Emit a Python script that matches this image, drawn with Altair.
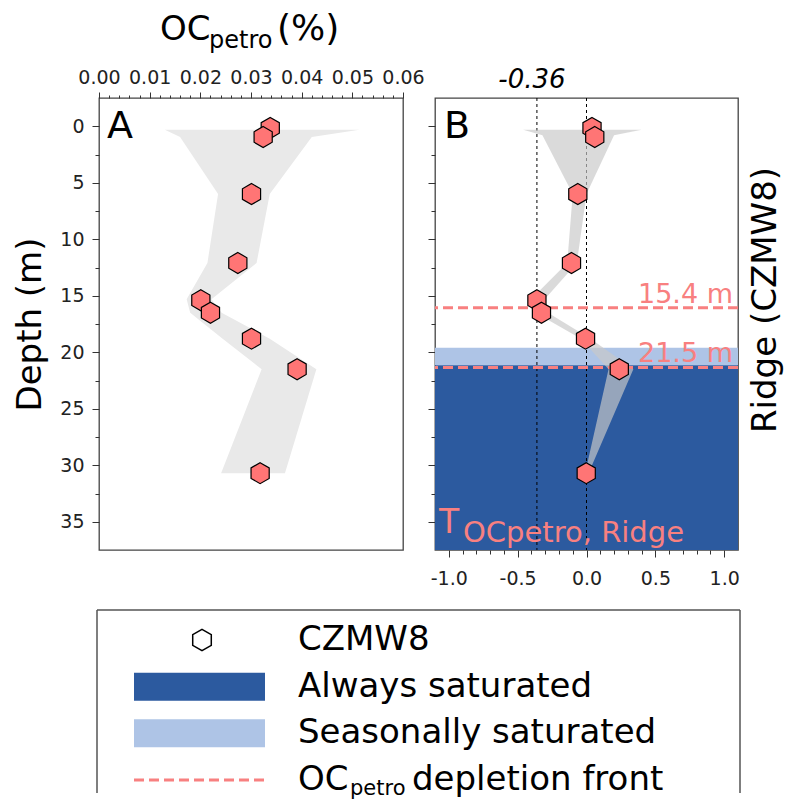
import altair as alt
import pandas as pd

# ---------------- data ----------------
depth = [0.15, 0.95, 6.0, 12.1, 15.4, 16.5, 18.8, 21.5, 30.7]
oc_petro = [0.0338, 0.0324, 0.0301, 0.0274, 0.0201, 0.0220, 0.0301, 0.0391, 0.0318]
tau_ridge = [0.04, 0.06, -0.063, -0.109, -0.36, -0.327, -0.007, 0.238, -0.002]

band_depth_a = [0.3, 0.95, 6.0, 12.1, 15.3, 16.5, 18.8, 21.5, 30.7]
band_lo_a = [0.0130, 0.0160, 0.0235, 0.0214, 0.0173, 0.0180, 0.0244, 0.0321, 0.0241]
band_hi_a = [0.0514, 0.0420, 0.0337, 0.0311, 0.0222, 0.0242, 0.0337, 0.0429, 0.0367]

band_depth_b = [0.3, 0.8, 6.0, 12.1, 15.4, 16.5, 18.8, 21.5, 30.7]
band_lo_b = [-0.46, -0.32, -0.10, -0.14, -0.41, -0.37, -0.04, 0.16, -0.01]
band_hi_b = [0.40, 0.20, 0.0, -0.07, -0.31, -0.28, 0.03, 0.34, 0.015]

front_depth = [16.07, 21.34]
front_label = ["15.4 m", "21.5 m"]
ref_tau = [-0.36, 0.0]
sat_zone = ["Seasonally saturated", "Always saturated"]
sat_top = [19.6, 21.15]
sat_bottom = [21.15, 37.5]

# axis ticks
y_major = [5 * i for i in range(8)]
y_minor = [2.5 + 5 * i for i in range(7)]
xa_major = [round(0.01 * i, 2) for i in range(7)]
xa_minor = [round(0.002 * i, 3) for i in range(31) if i % 5 != 0]
xb_major = [-1.0, -0.5, 0.0, 0.5, 1.0]
xb_minor = [round(-1.0 + 0.1 * i, 1) for i in range(21) if i % 5 != 0]

title_parts = ["OC", "petro", "(%)"]
tau_parts = ["T", "OCpetro, Ridge"]
panel_letters = ["A", "B"]
side_title = "Ridge (CZMW8)"
legend_rows = [0, 1, 2, 3]
legend_kind = ["marker", "rect", "rect", "front"]
legend_labels = ["CZMW8", "Always saturated", "Seasonally saturated", "depletion front"]
legend_sub = ["OC", "petro"]

# ---------------- style ----------------
FONT = "DejaVu Sans"
HEX = "M0,-1L0.866,-0.5L0.866,0.5L0,1L-0.866,0.5L-0.866,-0.5Z"
SALMON = "#ff7575"
FRONT = "#f88080"
DARK = "#2c5a9f"
LIGHT = "#aec4e6"
WA, WB, H = 304, 303, 452
LABEL_SIZE = 19
PT_SIZE = 440

y_scale = alt.Scale(domain=[-2.5, 37.5], reverse=True, nice=False, zero=False)
xa_scale = alt.Scale(domain=[0, 0.06], nice=False, zero=False)
xb_scale = alt.Scale(domain=[-1.1, 1.1], nice=False, zero=False)
sat_color = alt.Scale(domain=sat_zone, range=[LIGHT, DARK])

common = dict(domain=False, grid=False, tickColor="#333", tickWidth=1,
              labelFont=FONT, labelFontSize=LABEL_SIZE, labelColor="#222",
              labelOverlap=False, labelFlush=False)
minor_common = dict(domain=False, grid=False, tickColor="#333", tickWidth=1,
                    labels=False, title=None)

ya_major = alt.Axis(values=y_major, tickSize=7, labelPadding=8, format="d",
                    title="Depth (m)", titleFont=FONT, titleFontSize=34,
                    titleFontWeight="normal", titleColor="black", titlePadding=12,
                    **common)
yb_major = alt.Axis(values=y_major, tickSize=7, orient="left", **minor_common)
y_minor_ax = alt.Axis(values=y_minor, tickSize=4, orient="left", **minor_common)

xa_major_ax = alt.Axis(orient="top", values=xa_major, tickSize=6, labelPadding=5,
                       format=".2f", title=None, **common)
xa_minor_ax = alt.Axis(orient="top", values=xa_minor, tickSize=3, **minor_common)
xb_major_ax = alt.Axis(orient="bottom", values=xb_major, tickSize=7, labelPadding=12,
                       labelExpr="replace(format(datum.value, '.1f'), '\u2212', '-')",
                       title=None, **common)
xb_minor_ax = alt.Axis(orient="bottom", values=xb_minor, tickSize=4, **minor_common)

df_pts = pd.DataFrame({"depth": depth, "oc": oc_petro, "tau": tau_ridge})
df_band_a = pd.DataFrame({"depth": band_depth_a, "lo": band_lo_a, "hi": band_hi_a})
df_band_b = pd.DataFrame({"depth": band_depth_b, "lo": band_lo_b, "hi": band_hi_b})
df_front = pd.DataFrame({"depth": front_depth, "label": front_label})
df_ref = pd.DataFrame({"tau": ref_tau, "label": [f"{v:.2f}" for v in ref_tau]})
df_sat = pd.DataFrame({"zone": sat_zone, "top": sat_top, "bottom": sat_bottom})


def one(text):
    return alt.Chart(pd.DataFrame({"t": [text]}))


def txt(text, size, x, y, color="black", **kw):
    return one(text).mark_text(align=kw.pop("align", "left"), baseline=kw.pop("baseline", "alphabetic"),
                               fontSize=size, font=FONT, color=color, **kw).encode(
        text="t:N", x=alt.value(x), y=alt.value(y))


# ---------------- panel A ----------------
band_a = alt.Chart(df_band_a).mark_area(orient="horizontal", color="#e9e9e9").encode(
    x=alt.X("lo:Q", scale=xa_scale, axis=xa_major_ax),
    x2="hi:Q",
    y=alt.Y("depth:Q", scale=y_scale, axis=ya_major),
)
pts_a = alt.Chart(df_pts).mark_point(shape=HEX, size=PT_SIZE, filled=True, fill=SALMON,
                                     stroke="black", strokeWidth=1.2, opacity=1).encode(
    x=alt.X("oc:Q", axis=xa_minor_ax), y=alt.Y("depth:Q", axis=y_minor_ax)
)
panel_a = alt.layer(
    band_a, pts_a,
    txt(panel_letters[0], 38, 8, 40),
    txt(title_parts[0], 34, 61, -58),
    txt(title_parts[1], 24, 110, -50),
    txt(title_parts[2], 36, 178, -58),
).resolve_axis(x="independent", y="independent").properties(width=WA, height=H)

# ---------------- panel B ----------------
sat = alt.Chart(df_sat).mark_rect().encode(
    y=alt.Y("top:Q", scale=y_scale, axis=yb_major),
    y2="bottom:Q",
    color=alt.Color("zone:N", scale=sat_color, legend=None),
)
vlines = alt.Chart(df_ref).mark_rule(color="black", strokeDash=[3, 3], strokeWidth=1).encode(
    x=alt.X("tau:Q", scale=xb_scale, axis=xb_major_ax)
)
band_b = alt.Chart(df_band_b).mark_area(orient="horizontal", color="#c8c8c8", opacity=0.68).encode(
    x=alt.X("lo:Q", axis=None), x2="hi:Q", y=alt.Y("depth:Q", axis=None)
)
fronts = alt.Chart(df_front).mark_rule(color=FRONT, strokeDash=[10, 5], strokeWidth=3).encode(
    y=alt.Y("depth:Q", axis=None)
)
front_txt = alt.Chart(df_front).mark_text(align="right", baseline="alphabetic", fontSize=27,
                                          font=FONT, color=FRONT, dx=-5, dy=-5).encode(
    y=alt.Y("depth:Q", axis=None), x=alt.value(WB), text="label:N"
)
ref_txt = alt.Chart(df_ref).transform_filter("datum.tau < 0").mark_text(
    align="center", baseline="alphabetic", fontSize=26, fontStyle="italic", font=FONT,
    color="black", dx=-5).encode(x=alt.X("tau:Q", axis=None), y=alt.value(-10), text="label:N")
pts_b = alt.Chart(df_pts).mark_point(shape=HEX, size=PT_SIZE, filled=True, fill=SALMON,
                                     stroke="black", strokeWidth=1.2, opacity=1).encode(
    x=alt.X("tau:Q", axis=xb_minor_ax), y=alt.Y("depth:Q", axis=y_minor_ax)
)
panel_b = alt.layer(
    sat, vlines, band_b, fronts, front_txt, ref_txt, pts_b,
    txt(panel_letters[1], 38, 9, 40),
    txt(tau_parts[0], 33, 4, 435, color=FRONT),
    txt(tau_parts[1], 29, 28, 444, color=FRONT),
    txt(side_title, 34, WB + 28, 202, align="center", baseline="middle", angle=270),
).resolve_axis(x="independent", y="independent").properties(width=WB, height=H)

top = alt.hconcat(panel_a, panel_b, spacing=32, bounds="flush")

# ---------------- legend ----------------
L0 = -2
LWID = 643
LH = 183
leg_df = pd.DataFrame({"row": legend_rows, "kind": legend_kind, "label": legend_labels})
ly = alt.Scale(domain=[0, 3], range=[30, 170])
ROW = alt.Y("row:Q", scale=ly, axis=None)

frame_style = dict(color="#555", strokeWidth=1.5)
frame_top = one("f").mark_rule(**frame_style).encode(
    x=alt.value(L0), x2=alt.value(L0 + LWID), y=alt.value(0))
frame_left = one("f").mark_rule(**frame_style).encode(
    x=alt.value(L0), y=alt.value(0), y2=alt.value(LH))
frame_right = one("f").mark_rule(**frame_style).encode(
    x=alt.value(L0 + LWID), y=alt.value(0), y2=alt.value(LH))
leg_hex = alt.Chart(leg_df).transform_filter("datum.kind == 'marker'").mark_point(
    shape=HEX, size=460, filled=False, stroke="black", strokeWidth=1.5, opacity=1).encode(
    x=alt.value(L0 + 105), y=ROW)
leg_rect = alt.Chart(leg_df).transform_filter("datum.kind == 'rect'").transform_calculate(
    r1="datum.row - 0.3", r2="datum.row + 0.3").mark_rect().encode(
    x=alt.value(L0 + 37), x2=alt.value(L0 + 168),
    y=alt.Y("r1:Q", scale=ly, axis=None), y2="r2:Q",
    color=alt.Color("label:N", scale=sat_color, legend=None))
leg_dash = alt.Chart(leg_df).transform_filter("datum.kind == 'front'").mark_rule(
    color=FRONT, strokeDash=[10, 5], strokeWidth=3).encode(
    x=alt.value(L0 + 37), x2=alt.value(L0 + 168), y=ROW)
leg_txt = alt.Chart(leg_df).transform_filter("datum.kind != 'front'").mark_text(
    align="left", baseline="middle", fontSize=34, font=FONT, color="black").encode(
    x=alt.value(L0 + 201), y=ROW, text="label:N")
leg_front = alt.Chart(leg_df).transform_filter("datum.kind == 'front'").mark_text(
    align="left", baseline="middle", fontSize=34, font=FONT, color="black").encode(
    x=alt.value(L0 + 315), y=ROW, text="label:N")
leg_oc = alt.Chart(leg_df).transform_filter("datum.kind == 'front'").transform_calculate(
    t=f"'{legend_sub[0]}'").mark_text(
    align="left", baseline="middle", fontSize=34, font=FONT, color="black").encode(
    x=alt.value(L0 + 201), y=ROW, text="t:N")
leg_petro = alt.Chart(leg_df).transform_filter("datum.kind == 'front'").transform_calculate(
    t=f"'{legend_sub[1]}'").mark_text(
    align="left", baseline="middle", fontSize=21, font=FONT, color="black", dy=9).encode(
    x=alt.value(L0 + 253), y=ROW, text="t:N")

legend = alt.layer(frame_top, frame_left, frame_right, leg_rect, leg_dash, leg_hex,
                   leg_txt, leg_front, leg_oc, leg_petro).properties(
    width=LWID, height=LH, view=alt.ViewBackground(strokeOpacity=0))

chart = alt.vconcat(top, legend, spacing=20).properties(
    padding={"left": 5, "top": 2, "right": 0, "bottom": 0}
).configure(font=FONT).configure_view(stroke="#444", strokeWidth=1.3)

chart.save("out.html", embed_options={"renderer": "svg", "actions": False})
